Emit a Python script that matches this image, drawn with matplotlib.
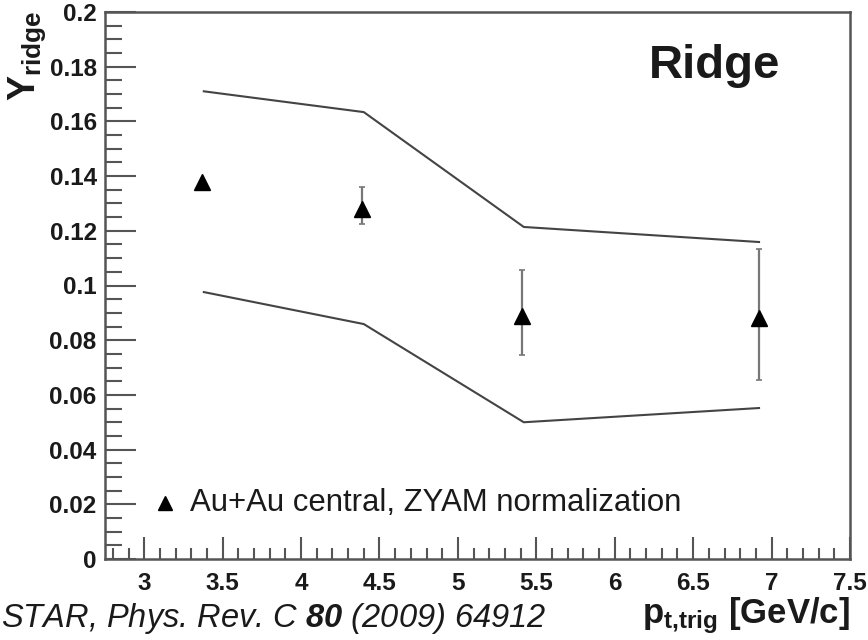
"""Ridge yield vs trigger pt (STAR PRC 80 (2009) 64912)."""
import matplotlib
matplotlib.use("Agg")
import matplotlib.pyplot as plt
from matplotlib.ticker import MultipleLocator, FuncFormatter

plt.rcParams["font.family"] = ["Liberation Sans", "DejaVu Sans"]
plt.rcParams["mathtext.fontset"] = "custom"
plt.rcParams["mathtext.rm"] = "Liberation Sans"
plt.rcParams["mathtext.it"] = "Liberation Sans:italic"
plt.rcParams["mathtext.bf"] = "Liberation Sans:bold"
plt.rcParams["mathtext.bfit"] = "Liberation Sans:italic:bold"

# data points (Au+Au central, ZYAM normalization)
pt = [3.37, 4.39, 5.41, 6.92]
yield_ = [0.138, 0.128, 0.089, 0.088]
err_lo = [0.0, 0.0055, 0.0145, 0.0226]
err_hi = [0.0, 0.0080, 0.0168, 0.0253]

# systematic band edges
band_pt = [3.38, 4.40, 5.42, 6.92]
band_hi = [0.171, 0.1634, 0.1214, 0.1159]
band_lo = [0.0976, 0.0859, 0.0500, 0.0552]

INK = "#1a1a1a"
AXC = "#555555"

fig = plt.figure(figsize=(8.68, 6.4), dpi=100)
ax = fig.add_axes([105 / 868, 1 - 559 / 640, 745 / 868, 547 / 640])

ax.plot(band_pt, band_hi, color="#444444", lw=1.5)
ax.plot(band_pt, band_lo, color="#444444", lw=1.5)
ax.errorbar(pt, yield_, yerr=[err_lo, err_hi], fmt="^", color="black",
            ms=11, ecolor="#777777", elinewidth=1.6, capsize=2, capthick=1.2)

ax.set_xlim(2.75, 7.5)
ax.set_ylim(0, 0.2)
ax.xaxis.set_major_locator(MultipleLocator(0.5))
ax.xaxis.set_minor_locator(MultipleLocator(0.1))
ax.yaxis.set_major_locator(MultipleLocator(0.02))
ax.yaxis.set_minor_locator(MultipleLocator(0.005))
ax.xaxis.set_major_formatter(FuncFormatter(lambda v, p: f"{v:g}"))
ax.yaxis.set_major_formatter(FuncFormatter(lambda v, p: f"{round(v, 3):g}"))

for s in ax.spines.values():
    s.set_color(AXC)
    s.set_linewidth(1.8)
ax.tick_params(which="both", direction="in", top=False, right=False,
               color=AXC, width=1.5, labelcolor=INK)
ax.tick_params(axis="x", which="major", length=16, pad=9, labelsize=17.5)
ax.tick_params(axis="x", which="minor", length=8)
ax.tick_params(axis="y", which="major", length=22, pad=6, labelsize=17.5)
ax.tick_params(axis="y", which="minor", length=12)
for lab in ax.get_xticklabels() + ax.get_yticklabels():
    lab.set_fontweight("bold")

# legend entry
ax.plot([3.13], [0.0205], marker="^", color="black", ms=10, ls="none")
ax.text(3.29, 0.0205, "Au+Au central, ZYAM normalization", fontsize=22.4,
        color=INK, va="center", ha="left")

fig.text(780 / 868, 1 - 78 / 640, "Ridge", fontsize=34, fontweight="bold",
         color=INK, ha="right", va="baseline")

fig.text(6 / 868, 1 - 10 / 640, r"$\mathbf{Y}_{\mathbf{ridge}}$", fontsize=27,
         rotation=90, ha="left", va="top", color=INK)
fig.text(850 / 868, 1 - 623 / 640, r"$\mathbf{p}_{\mathbf{t{,}trig}}$ [GeV/c]",
         fontsize=25, fontweight="bold", ha="right", va="baseline", color=INK)
fig.text(1 / 868, 1 - 627 / 640, r"STAR, Phys. Rev. C $\mathbfit{80}$ (2009) 64912",
         fontsize=23.5, style="italic", ha="left", va="baseline", color=INK)

fig.savefig("out.png", dpi=100, facecolor="white")
